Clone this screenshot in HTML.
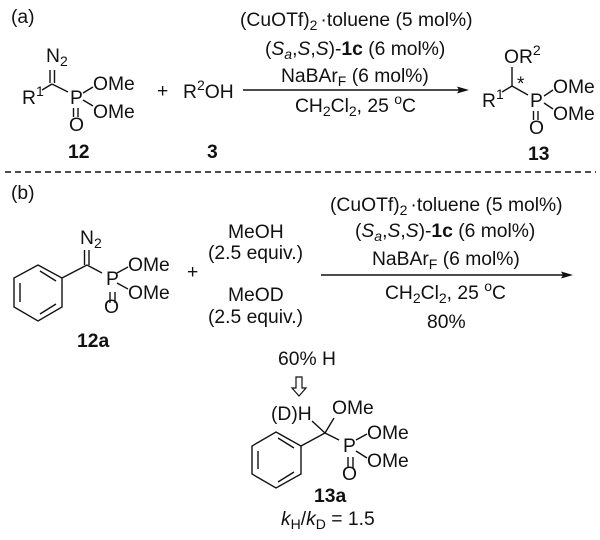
<!DOCTYPE html>
<html><head><meta charset="utf-8"><style>
html,body{margin:0;padding:0;background:#fff}
svg{display:block}
text{font-family:"Liberation Sans",sans-serif;font-size:19.3px;fill:#111}
.b{font-weight:700}
.i{font-style:italic}
.s{font-size:14px}
line,polyline{stroke:#111;stroke-width:1.4;fill:none}
</style></head><body>
<svg width="600" height="540" viewBox="0 0 600 540" xmlns="http://www.w3.org/2000/svg">
<text x="11" y="23">(a)</text>
<text x="11" y="199">(b)</text>
<line x1="5" y1="172" x2="596" y2="172" stroke-dasharray="6 4"/>

<!-- 12 -->
<text x="46" y="62">N<tspan class="s" dy="4">2</tspan></text>
<line x1="50" y1="70" x2="50" y2="83"/><line x1="54.500" y1="70" x2="54.500" y2="83"/>
<line x1="52" y1="84" x2="42" y2="90"/><line x1="52" y1="84" x2="68" y2="92"/>
<text x="22" y="104">R<tspan class="s" dy="-8">1</tspan></text>
<text x="70" y="104">P</text>
<line x1="83" y1="93" x2="93" y2="87"/><line x1="83" y1="100" x2="93" y2="106"/>
<text x="93" y="90">OMe</text><text x="93" y="118">OMe</text>
<line x1="73.500" y1="108" x2="73.500" y2="117"/><line x1="78" y1="108" x2="78" y2="117"/>
<text x="69" y="131">O</text>
<text class="b" x="68" y="158">12</text>
<text x="157" y="97">+</text>
<text x="183" y="98">R<tspan class="s" dy="-8">2</tspan><tspan dy="8">OH</tspan></text>
<text class="b" x="207" y="158">3</text>

<!-- arrow a -->
<line x1="243" y1="90" x2="460" y2="90"/>
<polygon points="469,90 457,86.500 459,90 457,93.500" fill="#111"/>
<text x="240" y="26">(CuOTf)<tspan class="s" dy="4">2</tspan><tspan dy="-4" dx="3">·toluene (5 mol%)</tspan></text>
<text x="265" y="55">(<tspan class="i">S</tspan><tspan class="i s" dy="4">a</tspan><tspan dy="-4">,</tspan><tspan class="i">S</tspan>,<tspan class="i">S</tspan>)-<tspan class="b">1c</tspan> (6 mol%)</text>
<text x="281" y="82">NaBAr<tspan class="s" dy="4">F</tspan><tspan dy="-4"> (6 mol%)</tspan></text>
<text x="295" y="112">CH<tspan class="s" dy="4">2</tspan><tspan dy="-4">Cl</tspan><tspan class="s" dy="4">2</tspan><tspan dy="-4">, 25 </tspan><tspan class="s" dy="-8">o</tspan><tspan dy="8">C</tspan></text>

<!-- 13 -->
<text x="504" y="63">OR<tspan class="s" dy="-8">2</tspan></text>
<text x="517" y="90" style="font-size:19px">*</text>
<line x1="512" y1="67" x2="512" y2="86"/>
<line x1="512" y1="86" x2="502" y2="92"/><line x1="512" y1="86" x2="528" y2="95"/>
<text x="482" y="107">R<tspan class="s" dy="-8">1</tspan></text>
<text x="530" y="107">P</text>
<line x1="544" y1="96" x2="553" y2="90"/><line x1="544" y1="103" x2="553" y2="109"/>
<text x="553" y="93">OMe</text><text x="553" y="120">OMe</text>
<line x1="533.500" y1="111" x2="533.500" y2="120"/><line x1="538" y1="111" x2="538" y2="120"/>
<text x="529" y="134">O</text>
<text class="b" x="528" y="160">13</text>

<!-- 12a -->
<text x="80" y="244">N<tspan class="s" dy="4">2</tspan></text>
<line x1="84.500" y1="250" x2="84.500" y2="265"/><line x1="89" y1="250" x2="89" y2="265"/>
<polygon points="38,265 62,278 62,307 38,321 14,307 14,278" fill="none" stroke="#111" stroke-width="1.4"/>
<line x1="40" y1="271" x2="56" y2="281"/><line x1="56" y1="304" x2="40" y2="314"/><line x1="20" y1="283" x2="20" y2="302"/>
<line x1="62" y1="278" x2="87" y2="265"/><line x1="87" y1="265" x2="102" y2="273"/>
<text x="106" y="285">P</text>
<line x1="117" y1="273" x2="128" y2="267"/><line x1="117" y1="283" x2="128" y2="289"/>
<text x="128" y="271">OMe</text><text x="128" y="299">OMe</text>
<line x1="110" y1="292" x2="110" y2="303"/><line x1="115" y1="292" x2="115" y2="303"/>
<text x="104" y="313">O</text>
<text class="b" x="77" y="347">12a</text>
<text x="187" y="278">+</text>
<text x="228" y="238">MeOH</text>
<text x="208" y="259">(2.5 equiv.)</text>
<text x="228" y="301">MeOD</text>
<text x="208" y="323">(2.5 equiv.)</text>

<!-- arrow b -->
<line x1="321" y1="275" x2="564" y2="275"/>
<polygon points="573,275 561,271.500 563,275 561,278.500" fill="#111"/>
<text x="330" y="211">(CuOTf)<tspan class="s" dy="4">2</tspan><tspan dy="-4" dx="3">·toluene (5 mol%)</tspan></text>
<text x="355" y="237">(<tspan class="i">S</tspan><tspan class="i s" dy="4">a</tspan><tspan dy="-4">,</tspan><tspan class="i">S</tspan>,<tspan class="i">S</tspan>)-<tspan class="b">1c</tspan> (6 mol%)</text>
<text x="372" y="265">NaBAr<tspan class="s" dy="4">F</tspan><tspan dy="-4"> (6 mol%)</tspan></text>
<text x="385" y="299">CH<tspan class="s" dy="4">2</tspan><tspan dy="-4">Cl</tspan><tspan class="s" dy="4">2</tspan><tspan dy="-4">, 25 </tspan><tspan class="s" dy="-8">o</tspan><tspan dy="8">C</tspan></text>
<text x="427" y="328">80%</text>

<!-- bottom -->
<text x="278" y="365">60% H</text>
<polygon points="296,377 302,377 302,388 306,388 299,396 292,388 296,388" fill="none" stroke="#111" stroke-width="1.2"/>
<text x="271" y="420">(D)H</text>
<text x="332" y="414">OMe</text>
<line x1="312" y1="421" x2="325" y2="433"/><line x1="325" y1="433" x2="334" y2="418"/>
<line x1="301" y1="446" x2="325" y2="433"/><line x1="325" y1="433" x2="339" y2="440"/>
<polygon points="276,432 301,446 301,474 276,488 252,474 252,446" fill="none" stroke="#111" stroke-width="1.4"/>
<line x1="278" y1="438" x2="294" y2="448"/><line x1="294" y1="472" x2="278" y2="482"/><line x1="258" y1="451" x2="258" y2="469"/>
<text x="343" y="452">P</text>
<line x1="356" y1="440" x2="367" y2="434"/><line x1="356" y1="451" x2="367" y2="458"/>
<text x="367" y="439">OMe</text><text x="367" y="467">OMe</text>
<line x1="348" y1="457" x2="348" y2="468"/><line x1="353" y1="457" x2="353" y2="468"/>
<text x="342" y="480">O</text>
<text class="b" x="314" y="502">13a</text>
<text x="281" y="525"><tspan class="i">k</tspan><tspan class="s" dy="4">H</tspan><tspan dy="-4">/</tspan><tspan class="i">k</tspan><tspan class="s" dy="4">D</tspan><tspan dy="-4"> = 1.5</tspan></text>
</svg>
</body></html>
